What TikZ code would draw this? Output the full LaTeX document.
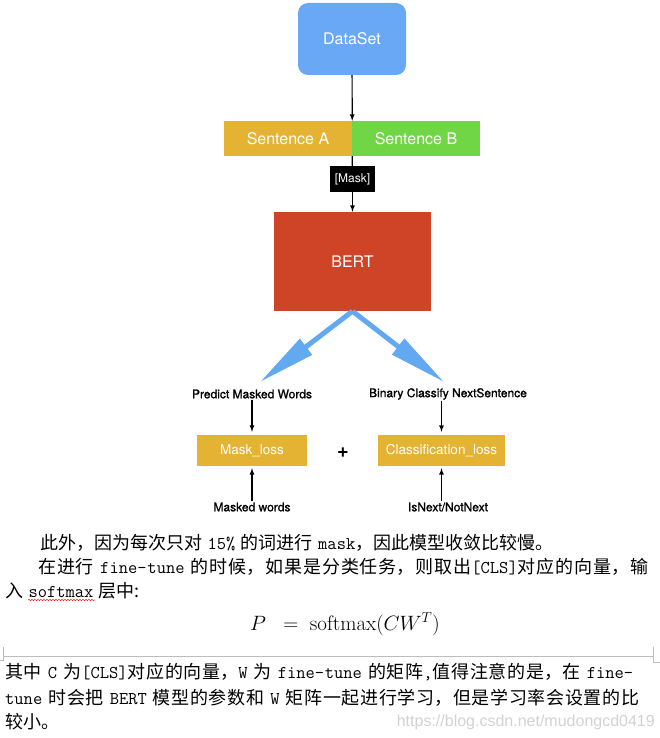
\documentclass[tikz,border=0pt]{standalone}
\usepackage{fontspec}
\setsansfont{TeX Gyre Heros}
\newfontfamily\lblfont{TeX Gyre Heros}[RawFeature={embolden=1.2}]
\newfontfamily\cjk{Noto Sans CJK SC}
\newfontfamily\wmfont{Liberation Sans}
\usetikzlibrary{arrows,arrows.meta,positioning,decorations.pathmorphing}
\XeTeXlinebreaklocale "zh"
\XeTeXlinebreakskip=0pt plus 4pt
\newcommand{\lat}[1]{{\ttfamily #1}}
\newcommand{\gap}{\hspace{0.3em plus 4pt}}
\definecolor{dsblue}{HTML}{68A8F5}
\definecolor{sgold}{HTML}{E5B334}
\definecolor{sgreen}{HTML}{70D645}
\definecolor{bertred}{HTML}{CF4427}
\definecolor{arrblue}{HTML}{62A9F0}
\definecolor{wmgray}{HTML}{D2D2D2}
\definecolor{rulegray}{HTML}{BDBDBD}
\begin{document}
\begin{tikzpicture}[x=1pt,y=-1pt,
    blk/.style={inner sep=0pt,text=white,font=\sffamily\fontsize{16}{19}\selectfont},
    lbl/.style={inner sep=1pt,font=\lblfont\fontsize{12}{14}\selectfont},
    para/.style={anchor=base west,inner sep=0pt,font=\cjk\fontsize{18}{24}\selectfont},
    bigarrow/.style={arrblue,line width=5pt,-{Triangle[length=58pt,width=19pt]}}]
    \useasboundingbox (0,0) rectangle (660,738);

    \node[blk,fill=dsblue,rounded corners=10pt,minimum width=108pt,minimum height=72pt] (dataset) at (352,39) {DataSet};
    \node[blk,fill=sgold,minimum width=128pt,minimum height=35pt] (senta) at (288,138.5) {Sentence A};
    \node[blk,fill=sgreen,minimum width=128pt,minimum height=35pt] (sentb) at (416,138.5) {Sentence B};
    \node[blk,fill=black,minimum width=45pt,minimum height=26pt,font=\sffamily\fontsize{12}{14}\selectfont] (mask) at (352.5,179) {[Mask]};
    \node[blk,fill=bertred,minimum width=157pt,minimum height=99pt] (bert) at (352.5,261.5) {BERT};

    \coordinate (mlmtip) at (260,382);
    \coordinate (nsptip) at (444,382);
    \node[lbl] (predict) at (252,394) {Predict Masked Words};
    \node[lbl] (binary) at (448,394) {Binary Classify NextSentence};
    \node[blk,fill=sgold,minimum width=110pt,minimum height=31pt,font=\sffamily\fontsize{13.5}{16}\selectfont] (maskloss) at (252,450.5) {Mask\_loss};
    \node[blk,fill=sgold,minimum width=127pt,minimum height=31pt,font=\sffamily\fontsize{13.5}{16}\selectfont] (clsloss) at (441.5,450.5) {Classification\_loss};
    \node[inner sep=0pt,font=\sffamily\bfseries\fontsize{20}{20}\selectfont] (plus) at (343,453) {+};
    \node[lbl] (maskedw) at (252,507) {Masked words};
    \node[lbl] (isnext) at (448,507) {IsNext/NotNext};

    \draw[->,>=latex,line width=1.2pt] (dataset) -- (senta.north east);
    \draw[line width=1.2pt] (senta.south east) -- (mask);
    \draw[->,>=latex,line width=1.2pt] (mask) -- (bert);
    \draw[bigarrow] (bert.south) -- (mlmtip);
    \draw[bigarrow] (bert.south) -- (nsptip);
    \draw[->,>=latex,line width=1.2pt,shorten >=3pt] (predict) -- (maskloss);
    \draw[->,>=latex,line width=1.2pt,shorten >=3pt] (binary.south -| clsloss) -- (clsloss);
    \draw[->,>=latex,line width=1.2pt,shorten >=2pt] (maskedw) -- (maskloss);
    \draw[->,>=latex,line width=1.2pt,shorten >=2pt] (isnext.north -| clsloss) -- (clsloss);

    % text of the page below the figure
    \node[para] (l1) at (40,549.5) {此外，因为每次只对\gap\lat{15\%}\gap 的词进行\gap\lat{mask}，因此模型收敛比较慢。};
    \node[para,text width=610pt,align=justify] (l2) at (38,573.5) {\parfillskip=0pt 在进行\gap\lat{fine-tune}\gap 的时候，如果是分类任务，则取出\lat{[CLS]}对应的向量，输\par};
    \node[para] (l3) at (5,597.5) {入\gap\lat{softmax}\gap 层中:};
    \draw[red,decorate,decoration={snake,amplitude=0.8pt,segment length=3pt}] (28,600) -- (95,600);
    \node[font=\fontsize{21}{24}\selectfont] (formula) at (345,624) {$P\;\;=\;\mathrm{softmax}(CW^T)$};

    \draw[rulegray] (3,656) -- (653,656);
    \draw[rulegray] (3,647) -- (3,660) -- (0,660);
    \draw[rulegray] (653,647) -- (653,662) -- (660,662);

    \node[para,text width=628pt,align=justify] (l4) at (5,678.5) {\parfillskip=0pt 其中\gap\lat{C}\gap 为\lat{[CLS]}对应的向量，\lat{W}\gap 为\gap\lat{fine-tune}\gap 的矩阵\lat{,}值得注意的是，在\gap\lat{fine-}\par};
    \node[para,text width=634pt,align=justify] (l5) at (5,704.5) {\parfillskip=0pt \lat{tune}\gap 时会把\gap\lat{BERT}\gap 模型的参数和\gap\lat{W}\gap 矩阵一起进行学习，但是学习率会设置的比\par};
    \node[para] (l6) at (5,728.5) {较小。};
    \node[anchor=east,inner sep=0pt,text=wmgray,font=\wmfont\fontsize{16}{18}\selectfont] (wm) at (655,722) {https://blog.csdn.net/mudongcd0419};
\end{tikzpicture}
\end{document}
